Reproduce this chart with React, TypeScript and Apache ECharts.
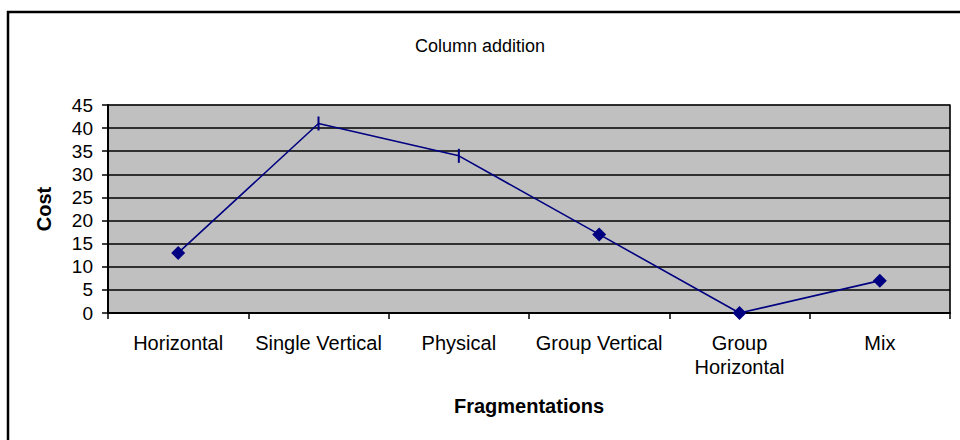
import React, { useEffect, useRef } from "react";
import * as echarts from "echarts";

const categories = ["Horizontal", "Single Vertical", "Physical", "Group Vertical", "Group Horizontal", "Mix"];
const costValues = [13, 41, 34, 17, 0, 7];
const markerKinds = ["diamond", "bar", "bar", "diamond", "diamond", "diamond"];

const FONT = "'Liberation Sans', Arial, sans-serif";

export default function App() {
  const ref = useRef<HTMLDivElement>(null);
  useEffect(() => {
    if (!ref.current) return;
    const chart = echarts.init(ref.current, undefined, { renderer: "svg" });
    const data = costValues.map((v, i) =>
      markerKinds[i] === "bar"
        ? { value: v, symbol: "rect", symbolSize: [2, 14] }
        : { value: v, symbol: "diamond", symbolSize: 14 }
    );
    chart.setOption({
      animation: false,
      backgroundColor: "#ffffff",
      textStyle: { fontFamily: FONT, color: "#000" },
      title: {
        text: "Column addition",
        left: "center",
        top: 32,
        textStyle: { fontFamily: FONT, fontSize: 18, fontWeight: "normal", color: "#000" },
      },
      graphic: [
        {
          type: "rect",
          shape: { x: 8, y: 12, width: 1000, height: 500 },
          style: { fill: "none", stroke: "#000", lineWidth: 2.5 },
          silent: true,
        },
      ],
      grid: {
        left: 108,
        right: 10,
        top: 105,
        bottom: 127,
        show: true,
        backgroundColor: "#C0C0C0",
        borderColor: "#808080",
        borderWidth: 1,
      },
      xAxis: {
        type: "category",
        data: categories,
        boundaryGap: true,
        name: "Fragmentations",
        nameLocation: "middle",
        nameGap: 83,
        nameTextStyle: { fontFamily: FONT, fontSize: 20, fontWeight: "bold", color: "#000" },
        axisLine: { lineStyle: { color: "#000", width: 2 } },
        axisTick: { show: true, length: 6, alignWithLabel: false, lineStyle: { color: "#000", width: 1.5 } },
        axisLabel: {
          fontFamily: FONT,
          fontSize: 20,
          color: "#000",
          margin: 18,
          lineHeight: 24,
          interval: 0,
          formatter: (v: string) => (v === "Group Horizontal" ? "Group\nHorizontal" : v),
        },
        splitLine: { show: false },
      },
      yAxis: [
        {
          type: "value",
          min: 0,
          max: 45,
          interval: 5,
          name: "Cost",
          nameLocation: "middle",
          nameRotate: 90,
          nameGap: 54,
          nameTextStyle: { fontFamily: FONT, fontSize: 20, fontWeight: "bold", color: "#000" },
          axisLine: { show: true, lineStyle: { color: "#000", width: 2 } },
          axisTick: { show: true, length: 6, lineStyle: { color: "#000", width: 1.5 } },
          axisLabel: { fontFamily: FONT, fontSize: 19, color: "#000", margin: 15 },
          splitLine: { show: true, lineStyle: { color: "#000", width: 1.5 } },
        },
        {
          type: "value",
          position: "right",
          min: 0,
          max: 45,
          interval: 5,
          axisLine: { show: true, lineStyle: { color: "#000", width: 1.5 } },
          axisTick: { show: false },
          axisLabel: { show: false },
          splitLine: { show: false },
        },
      ],
      series: [
        {
          type: "line",
          yAxisIndex: 0,
          data,
          lineStyle: { color: "#000080", width: 1.6 },
          itemStyle: { color: "#000080" },
          z: 5,
        },
      ],
    });
    return () => chart.dispose();
  }, []);
  return (
    <div
      ref={ref}
      style={{ width: 960, height: 440, position: "fixed", left: 0, top: 0 }}
    />
  );
}
